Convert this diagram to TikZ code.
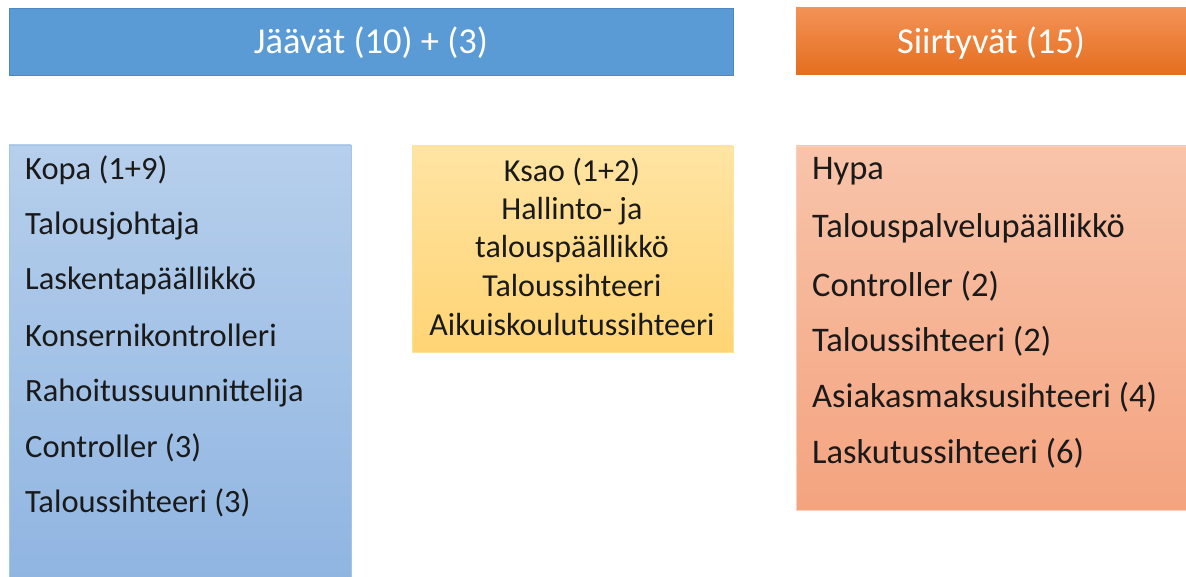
\documentclass[tikz,border=0pt]{standalone}
\usepackage{fontspec}
\setmainfont{Carlito}
\definecolor{hdrblue}{HTML}{5B9BD5}
\definecolor{hdrblueline}{HTML}{4F87C2}
\definecolor{hdrorangetop}{HTML}{F39256}
\definecolor{hdrorangebot}{HTML}{E56E1E}
\definecolor{lefttop}{HTML}{B6CFEC}
\definecolor{leftbot}{HTML}{90B5E1}
\definecolor{midtop}{HTML}{FFE4A3}
\definecolor{midbot}{HTML}{FFD474}
\definecolor{righttop}{HTML}{F8C4AA}
\definecolor{rightbot}{HTML}{F4A37F}
\definecolor{ink}{HTML}{1A1A1A}
\begin{document}
\begin{tikzpicture}[x=1pt,y=-1pt,
  header/.style={anchor=base, inner sep=0pt, font=\fontsize{36.5}{42}\selectfont, text=white},
  item/.style={anchor=base west, inner sep=0pt, text=ink, font=\fontsize{32.5}{38}\selectfont},
  bigitem/.style={item, font=\fontsize{34.5}{40}\selectfont},
  centreitem/.style={anchor=base, inner sep=0pt, text=ink, font=\fontsize{32}{38}\selectfont}]
\useasboundingbox (0,0) rectangle (1186,577);
% header bars
\draw[hdrblueline, fill=hdrblue] (9,8) rectangle (733,75);
\node[header] (stay) at (371,54) {Jäävät (10) + (3)};
\shade[top color=hdrorangetop, bottom color=hdrorangebot] (796,8) rectangle (1186,75);
\node[header] (move) at (991,54) {Siirtyvät (15)};
% list panels
\shade[top color=lefttop, bottom color=leftbot] (9,145) rectangle (351,580);
\draw[lefttop!80!hdrblue] (9,580) -- (9,145) -- (351,145) -- (351,580);
\shade[top color=midtop, bottom color=midbot] (412,146) rectangle (733,352);
\draw[midbot!70!white] (412,146) rectangle (733,352);
\shade[top color=righttop, bottom color=rightbot] (796,146) rectangle (1190,510);
\draw[righttop!80!white] (1190,146) -- (796,146) -- (796,510) -- (1190,510);
% left list
\node[item] (l1) at (25,180) {Kopa (1+9)};
\node[item] (l2) at (25,235) {Talousjohtaja};
\node[item] (l3) at (25,290) {Laskentapäällikkö};
\node[item] (l4) at (25,346) {Konsernikontrolleri};
\node[item] (l5) at (25,401) {Rahoitussuunnittelija};
\node[item] (l6) at (25,457) {Controller (3)};
\node[item] (l7) at (25,512) {Taloussihteeri (3)};
% middle list
\node[centreitem] (m1) at (572,182) {Ksao (1+2)};
\node[centreitem] (m2) at (572,220) {Hallinto- ja};
\node[centreitem] (m3) at (572,258) {talouspäällikkö};
\node[centreitem] (m4) at (572,297) {Taloussihteeri};
\node[centreitem] (m5) at (572,335) {Aikuiskoulutussihteeri};
% right list
\node[bigitem] (r1) at (812,180) {Hypa};
\node[bigitem] (r2) at (812,238) {Talouspalvelupäällikkö};
\node[bigitem] (r3) at (812,297) {Controller (2)};
\node[bigitem] (r4) at (812,352) {Taloussihteeri (2)};
\node[bigitem] (r5) at (812,407) {Asiakasmaksusihteeri (4)};
\node[bigitem] (r6) at (812,463) {Laskutussihteeri (6)};
\end{tikzpicture}
\end{document}
